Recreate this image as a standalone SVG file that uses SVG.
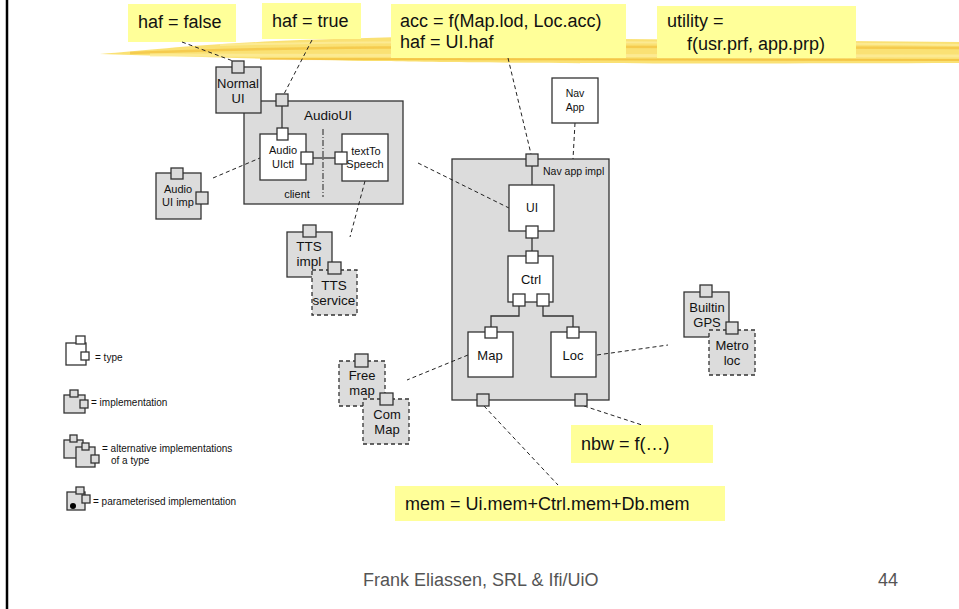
<svg xmlns="http://www.w3.org/2000/svg" width="959" height="609" viewBox="0 0 959 609">
<style>
.t{font-family:"Liberation Sans",Arial,sans-serif;fill:#111}
.m{text-anchor:middle}
.imp{fill:#dcdcdc;stroke:#333;stroke-width:1.3}
.typ{fill:#fff;stroke:#333;stroke-width:1.3}
.alt{fill:#dcdcdc;stroke:#333;stroke-width:1.3;stroke-dasharray:4,3}
.pg{fill:#dcdcdc;stroke:#333;stroke-width:1.3}
.pw{fill:#fff;stroke:#333;stroke-width:1.3}
.lab{fill:#ffff99}
.d{fill:none;stroke:#222;stroke-width:1;stroke-dasharray:4,3}
.s{fill:none;stroke:#333;stroke-width:1.3}
</style>
<rect width="959" height="609" fill="#fff"/>
<line x1="7" y1="0" x2="7" y2="609" stroke="#000" stroke-width="2.5"/>
<g id="brush">
<path d="M100,54 C150,50 200,44 300,40 L400,37 L959,42 L959,63 C700,64 450,63 380,61 C300,60 200,57 100,54 Z" fill="#f9dc5c" opacity="0.85"/>
<path d="M130,53 C250,48 400,45 959,48" stroke="#f2bd35" stroke-width="2.5" fill="none" opacity="0.6"/>
<path d="M150,55 C300,56 500,57 959,56" stroke="#fcec9a" stroke-width="3" fill="none" opacity="0.8"/>
<path d="M260,59 C450,61 700,61 959,60" stroke="#f0b428" stroke-width="2" fill="none" opacity="0.6"/>
<path d="M220,45 C350,41 600,41 959,45" stroke="#fcec9a" stroke-width="2" fill="none" opacity="0.8"/>
</g>
<g id="labels">
<g id="lab-haf-false"><rect class="lab" x="128" y="4" width="108" height="38"/><text class="t" x="138" y="28" font-size="18">haf = false</text></g>
<g id="lab-haf-true"><rect class="lab" x="262" y="3" width="99" height="36"/><text class="t" x="272" y="27" font-size="18">haf = true</text></g>
<g id="lab-acc"><rect class="lab" x="391" y="4" width="235" height="54"/><text class="t" x="400" y="27" font-size="18">acc = f(Map.lod, Loc.acc)</text><text class="t" x="400" y="48" font-size="18">haf = UI.haf</text></g>
<g id="lab-utility"><rect class="lab" x="657" y="6" width="199" height="52"/><text class="t" x="667" y="27" font-size="18">utility =</text><text class="t" x="687" y="50" font-size="18">f(usr.prf, app.prp)</text></g>
<g id="lab-nbw"><rect class="lab" x="571" y="425" width="142" height="38"/><text class="t" x="581" y="450" font-size="18">nbw = f(…)</text></g>
<g id="lab-mem"><rect class="lab" x="395" y="486" width="330" height="35"/><text class="t" x="405" y="510" font-size="18">mem = Ui.mem+Ctrl.mem+Db.mem</text></g>
</g>
<g id="audio-ui"><rect class="imp" x="244" y="101" width="159" height="103"/><text class="t m" x="328" y="120" font-size="13.5">AudioUI</text><text class="t m" x="297" y="198" font-size="11">client</text></g>
<g id="nav-app-impl"><rect class="imp" x="452" y="159" width="157" height="241"/><text class="t" x="543" y="175" font-size="10.5">Nav app impl</text></g>
<g id="connectors">
<line class="d" x1="182" y1="42" x2="233" y2="61"/>
<line class="d" x1="312" y1="40" x2="284" y2="94"/>
<line class="d" x1="508" y1="58" x2="531" y2="154"/>
<line class="d" x1="575" y1="123" x2="573" y2="159"/>
<line class="d" x1="213" y1="178" x2="260" y2="158"/>
<line class="d" x1="365" y1="181" x2="350" y2="237"/>
<line class="d" x1="418" y1="163" x2="509" y2="208"/>
<line class="d" x1="468" y1="355" x2="407" y2="380"/>
<line class="d" x1="597" y1="355" x2="668" y2="345"/>
<line class="d" x1="484" y1="406" x2="558" y2="485"/>
<line class="d" x1="584" y1="406" x2="642" y2="425"/>
<line class="s" x1="282" y1="106" x2="282" y2="128"/>
<line class="s" x1="313" y1="158" x2="335" y2="158"/>
<line class="s" x1="532" y1="166" x2="532" y2="185"/>
<line class="s" x1="532" y1="238" x2="532" y2="251"/>
<polyline class="s" points="519,306 519,316 491,316 491,327"/>
<polyline class="s" points="543,306 543,316 573,316 573,327"/>
<line x1="323" y1="129" x2="323" y2="197" stroke="#222" stroke-width="1" stroke-dasharray="6,2,1,2"/>
</g>
<g id="audio-ui-port"><rect class="pg" x="276" y="94" width="12" height="12"/></g>
<g id="nav-app-impl-ports"><rect class="pg" x="526" y="154" width="12" height="12"/><rect class="pg" x="477" y="394" width="12" height="12"/><rect class="pg" x="575" y="394" width="12" height="12"/></g>
<g id="normal-ui"><rect class="imp" x="216" y="67" width="45" height="46"/><rect class="pg" x="232" y="61" width="12" height="12"/><text class="t m" x="238" y="88" font-size="13">Normal</text><text class="t m" x="238" y="103" font-size="13">UI</text></g>
<g id="audio-uictl"><rect class="typ" x="260" y="134" width="46" height="46"/><rect class="pw" x="277" y="128" width="11" height="12"/><rect class="pw" x="301" y="152" width="12" height="12"/><text class="t m" x="283" y="154" font-size="11">Audio</text><text class="t m" x="283" y="168" font-size="11">UIctl</text></g>
<g id="text-to-speech"><rect class="typ" x="342" y="134" width="46" height="47"/><rect class="pw" x="335" y="152" width="12" height="12"/><text class="t m" x="366" y="155" font-size="11">textTo</text><text class="t m" x="365" y="168" font-size="11">Speech</text></g>
<g id="audio-ui-imp"><rect class="imp" x="156" y="173" width="45" height="46"/><rect class="pg" x="171" y="168" width="12" height="11"/><rect class="pg" x="196" y="192" width="12" height="12"/><text class="t m" x="178" y="193" font-size="11">Audio</text><text class="t m" x="178" y="206" font-size="11">UI imp</text></g>
<g id="tts-impl"><rect class="imp" x="287" y="232" width="45" height="45"/><rect class="pg" x="303" y="225" width="13" height="12"/><text class="t m" x="309" y="251" font-size="13.5">TTS</text><text class="t m" x="309" y="266" font-size="13.5">impl</text></g>
<g id="tts-service"><rect class="alt" x="312" y="270" width="45" height="45"/><rect class="pg" x="328" y="262" width="13" height="12"/><text class="t m" x="334" y="290" font-size="13.5">TTS</text><text class="t m" x="334" y="305" font-size="13.5">service</text></g>
<g id="nav-app"><rect class="typ" x="552" y="78" width="46" height="45"/><text class="t m" x="575" y="97" font-size="10.5">Nav</text><text class="t m" x="575" y="111" font-size="10.5">App</text></g>
<g id="ui"><rect class="typ" x="509" y="185" width="45" height="46"/><rect class="pw" x="526" y="226" width="12" height="12"/><text class="t m" x="532" y="212" font-size="12">UI</text></g>
<g id="ctrl"><rect class="typ" x="508" y="256" width="45" height="46"/><rect class="pw" x="526" y="251" width="12" height="12"/><rect class="pw" x="513" y="294" width="12" height="12"/><rect class="pw" x="537" y="294" width="12" height="12"/><text class="t m" x="531" y="284" font-size="13">Ctrl</text></g>
<g id="map"><rect class="typ" x="468" y="332" width="45" height="45"/><rect class="pw" x="485" y="327" width="12" height="11"/><text class="t m" x="490" y="360" font-size="13">Map</text></g>
<g id="loc"><rect class="typ" x="551" y="332" width="45" height="45"/><rect class="pw" x="567" y="327" width="12" height="11"/><text class="t m" x="573" y="360" font-size="13">Loc</text></g>
<g id="builtin-gps"><rect class="imp" x="684" y="292" width="45" height="45"/><rect class="pg" x="700" y="285" width="12" height="12"/><text class="t m" x="707" y="312" font-size="13">Builtin</text><text class="t m" x="707" y="327" font-size="13">GPS</text></g>
<g id="metro-loc"><rect class="alt" x="709" y="330" width="46" height="45"/><rect class="pg" x="726" y="322" width="12" height="12"/><text class="t m" x="732" y="350" font-size="13">Metro</text><text class="t m" x="732" y="365" font-size="13">loc</text></g>
<g id="free-map"><rect class="alt" x="339" y="361" width="46" height="45"/><rect class="pg" x="355" y="354" width="13" height="13"/><text class="t m" x="362" y="380" font-size="13">Free</text><text class="t m" x="362" y="395" font-size="13">map</text></g>
<g id="com-map"><rect class="alt" x="363" y="399" width="46" height="45"/><rect class="pg" x="380" y="393" width="13" height="12"/><text class="t m" x="387" y="419" font-size="13">Com</text><text class="t m" x="387" y="434" font-size="13">Map</text></g>
<g id="legend">
<g id="leg-type"><rect class="typ" x="66" y="343" width="20" height="22" stroke-width="1"/><rect class="pw" x="76" y="336" width="9" height="8" stroke-width="1"/><rect class="pw" x="81" y="352" width="8" height="8" stroke-width="1"/><text class="t" x="95" y="361" font-size="10">= type</text></g>
<g id="leg-impl"><rect class="imp" x="64" y="395" width="21" height="18" stroke-width="1"/><rect class="pg" x="70" y="390" width="8" height="7" stroke-width="1"/><rect class="pg" x="80" y="400" width="8" height="8" stroke-width="1"/><text class="t" x="91" y="406" font-size="10">= implementation</text></g>
<g id="leg-alt"><rect class="imp" x="64" y="440" width="19" height="18" stroke-width="1"/><rect class="pg" x="70" y="435" width="7" height="7" stroke-width="1"/><rect class="imp" x="76" y="447" width="19" height="20" stroke-width="1"/><rect class="pg" x="82" y="443" width="7" height="7" stroke-width="1"/><rect class="pg" x="91" y="455" width="8" height="8" stroke-width="1"/><text class="t" x="102" y="452" font-size="10">= alternative implementations</text><text class="t" x="111" y="464" font-size="10">of a type</text></g>
<g id="leg-param"><rect class="imp" x="67" y="492" width="18" height="18" stroke-width="1"/><rect class="pg" x="76" y="487" width="8" height="7" stroke-width="1"/><rect class="pg" x="82" y="495" width="8" height="8" stroke-width="1"/><circle cx="73" cy="506" r="3" fill="#000"/><text class="t" x="93" y="505" font-size="10">= parameterised implementation</text></g>
</g>
<g id="footer"><text class="t" x="363" y="586" font-size="18" style="fill:#555">Frank Eliassen, SRL &amp; Ifi/UiO</text><text class="t" x="878" y="586" font-size="18" style="fill:#555">44</text></g>
</svg>
